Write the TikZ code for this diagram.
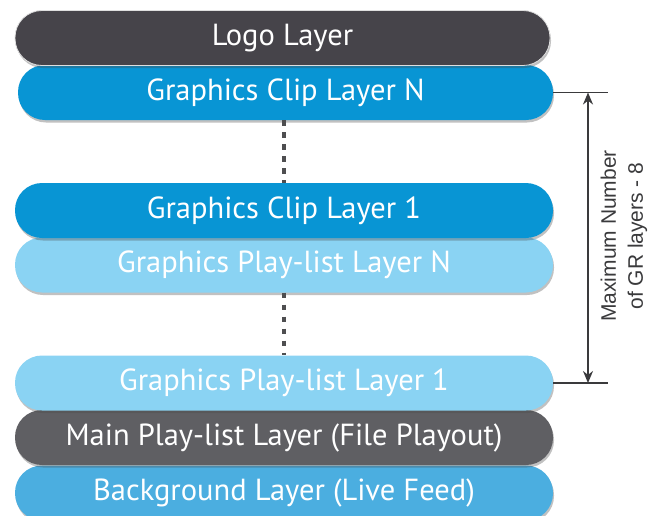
\documentclass[tikz,border=0pt]{standalone}
\usepackage{fontspec}
\setmainfont{PT Sans}
\newfontfamily\dimfont{Liberation Sans}
\usetikzlibrary{shadows,arrows.meta}
\definecolor{logoc}{HTML}{46444A}
\definecolor{clipc}{HTML}{0895D4}
\definecolor{plc}{HTML}{8AD3F3}
\definecolor{mainc}{HTML}{5F5F63}
\definecolor{bgc}{HTML}{4BAEE0}
\definecolor{dimc}{HTML}{3A3A3C}
\begin{document}
\begin{tikzpicture}[x=1pt,y=-1pt,
  bar/.style={rounded corners=27pt, minimum width=538pt, minimum height=55pt,
    inner sep=0pt, text=white, font=\fontsize{30.5}{35}\selectfont,
    drop shadow={shadow xshift=1pt, shadow yshift=-2.5pt, opacity=0.35, fill=black!70}},
  dotline/.style={draw=dimc!90, line width=4pt, dash pattern=on 5.5pt off 6.5pt},
  dim/.style={draw=dimc, line width=1.5pt},
  dimarrow/.style={dim, {Stealth[length=12pt,width=10pt]}-{Stealth[length=12pt,width=10pt]}}]
\useasboundingbox (0,0) rectangle (659,515);
\clip (0,0) rectangle (659,515);
% bars drawn bottom to top
\node[bar, fill=bgc] (bg) at (284,493) {Background Layer (Live Feed)};
\node[bar, fill=mainc] (main) at (284,437.5) {Main Play-list Layer (File Playout)};
\node[bar, fill=plc] (pl1) at (284,383) {Graphics Play-list Layer 1};
\node[bar, fill=plc] (plN) at (284,265) {Graphics Play-list Layer N};
\node[bar, fill=clipc] (clip1) at (284,210.5) {Graphics Clip Layer 1};
\node[bar, fill=clipc, minimum width=535pt] (clipN) at (285.5,92.5) {Graphics Clip Layer N};
\node[bar, fill=logoc, minimum width=535pt, draw=gray!25, line width=0.8pt] (logo) at (282.5,38) {Logo Layer};
% dotted continuations
\draw[dotline] (clip1.north |- clipN.south) -- (clip1.north);
\draw[dotline] (pl1.north |- plN.south) -- (pl1.north);
% dimension
\coordinate (R) at (608,0);
\coordinate (A) at (588,0);
\draw[dim] (clipN.east) -- (clipN.east -| R);
\draw[dim] (pl1.east) -- (pl1.east -| R);
\draw[dimarrow] (clipN.east -| A) -- (pl1.east -| A);
\node[rotate=90, align=center, text=dimc, font=\dimfont\fontsize{21}{27}\selectfont] (lbl) at (624,236) {Maximum Number\\of GR layers - 8};
\end{tikzpicture}
\end{document}
